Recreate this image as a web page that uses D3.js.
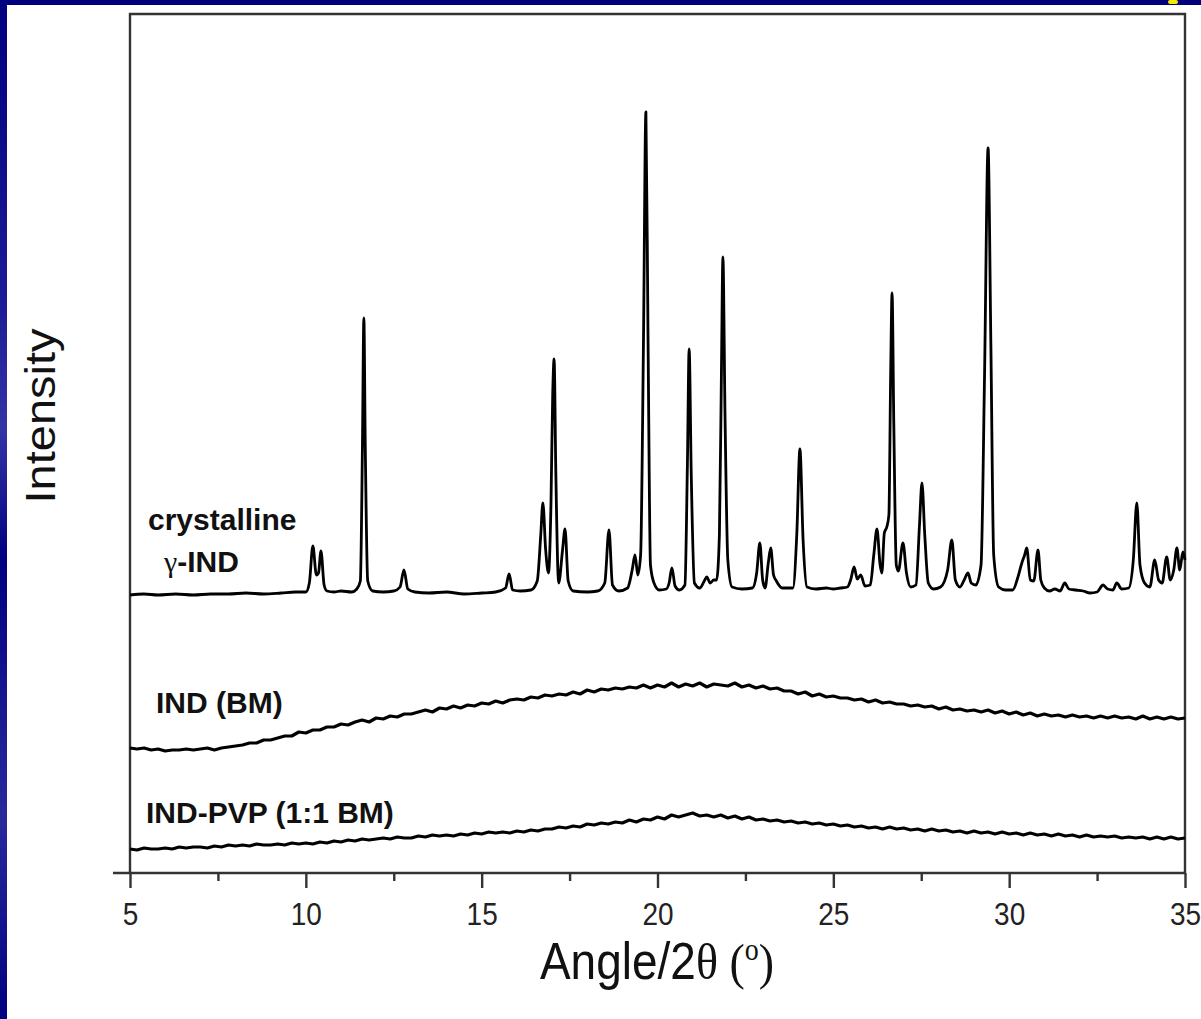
<!DOCTYPE html>
<html>
<head>
<meta charset="utf-8">
<script src="https://cdn.jsdelivr.net/npm/d3@7"></script>
<style>
  html, body { margin: 0; padding: 0; background: #00007d; }
  svg { display: block; }
</style>
</head>
<body>
<div id="chart"></div>
<script>
// x-ray powder patterns (counts above each trace's own zero)
var angleTicks = [5, 10, 15, 20, 25, 30, 35];
var angleMinorTicks = [7.5, 12.5, 17.5, 22.5, 27.5, 32.5];

// crystalline gamma-IND: [2theta, counts]
var crystallinePattern = [
  [5.0,0],[5.4,1],[5.8,0],[6.3,1],[6.8,0],[7.3,1],[7.8,1],[8.3,2],[8.8,1],[9.3,2],[9.7,3],[10.0,3],
  [10.1,12],[10.2,49],[10.3,20],[10.36,22],[10.43,44],[10.52,10],[10.6,4],[10.8,3],[11.0,4],[11.3,3],
  [11.45,6],[11.55,14],[11.61,150],[11.65,277],[11.69,150],[11.76,14],[11.9,4],[12.2,3],[12.5,4],
  [12.68,8],[12.79,25],[12.9,6],[13.1,3],[13.5,2],[14.0,3],[14.5,1],[15.0,2],[15.4,3],[15.68,7],
  [15.78,21],[15.88,5],[16.1,4],[16.4,5],[16.58,14],[16.68,60],[16.74,92],[16.82,45],[16.9,22],
  [16.97,90],[17.02,200],[17.06,236],[17.11,120],[17.19,12],[17.3,45],[17.37,66],[17.46,14],[17.6,4],
  [18.0,3],[18.3,4],[18.5,12],[18.62,65],[18.72,10],[18.9,4],[19.15,7],[19.28,25],[19.36,40],
  [19.44,20],[19.52,40],[19.6,250],[19.67,483],[19.73,260],[19.8,30],[19.9,12],[20.05,5],[20.25,6],
  [20.33,12],[20.41,27],[20.5,9],[20.62,5],[20.78,10],[20.85,130],[20.9,246],[20.96,120],[21.05,12],
  [21.2,7],[21.33,14],[21.4,18],[21.5,12],[21.6,15],[21.68,15],[21.76,60],[21.82,230],[21.86,338],
  [21.92,180],[22.0,35],[22.12,8],[22.4,6],[22.7,7],[22.82,22],[22.91,52],[22.99,15],[23.06,7],
  [23.15,32],[23.22,47],[23.3,20],[23.38,14],[23.55,7],[23.85,7],[23.96,60],[24.05,146],[24.14,55],
  [24.25,8],[24.5,6],[24.8,7],[25.0,6],[25.2,7],[25.4,8],[25.5,16],[25.59,28],[25.68,16],[25.78,20],
  [25.9,9],[26.05,10],[26.15,40],[26.24,66],[26.33,30],[26.38,22],[26.45,62],[26.52,68],[26.58,80],
  [26.63,220],[26.67,302],[26.72,170],[26.79,30],[26.85,24],[26.98,52],[27.08,22],[27.2,8],[27.35,10],
  [27.45,70],[27.52,112],[27.6,60],[27.7,12],[27.85,6],[28.05,8],[28.25,25],[28.37,55],[28.47,15],
  [28.6,8],[28.72,15],[28.83,22],[28.92,12],[29.05,10],[29.2,30],[29.3,220],[29.4,447],[29.48,250],
  [29.56,40],[29.7,8],[29.9,5],[30.1,5],[30.25,18],[30.36,32],[30.44,40],[30.5,47],[30.6,15],[30.7,14],
  [30.82,45],[30.9,15],[31.0,7],[31.15,4],[31.3,6],[31.45,4],[31.58,12],[31.7,6],[31.9,5],[32.1,4],
  [32.3,2],[32.5,3],[32.67,10],[32.8,6],[32.95,5],[33.06,12],[33.2,6],[33.4,7],[33.53,35],[33.63,92],
  [33.72,30],[33.85,12],[34.0,8],[34.14,35],[34.25,15],[34.35,12],[34.48,38],[34.58,15],[34.68,25],
  [34.77,47],[34.85,25],[34.94,43],[35.0,35]
];

// ball-milled samples, sampled every 0.2 deg from 5 deg
var scanStart = 5, scanStep = 0.2;
var indBM = [
  5,4,5,3,4,2,3,3,4,3,
  4,5,3,5,6,7,8,10,10,13,
  13,15,17,17,21,20,23,23,26,26,
  29,28,31,33,31,35,34,37,36,39,
  39,41,43,41,45,44,47,45,48,47,
  50,49,52,50,53,54,53,56,55,58,
  57,59,58,61,59,63,61,64,63,65,
  64,66,65,68,65,68,66,70,66,69,
  67,70,66,69,68,67,70,66,68,65,
  67,64,65,62,62,59,61,57,59,56,
  57,55,55,53,54,51,53,50,51,49,
  49,47,48,46,47,44,46,43,44,42,
  43,41,43,40,42,39,41,38,40,37,
  39,37,38,36,38,36,37,35,37,35,
  37,35,36,34,37,34,36,34,36,34,
  35
];
var indPVP = [
  4,3,5,4,4,5,4,6,5,6,
  6,5,7,6,8,7,8,7,9,8,
  8,9,8,10,9,10,9,11,10,12,
  11,13,12,14,13,14,15,14,16,15,
  15,17,16,18,17,18,17,19,18,20,
  19,21,20,21,20,22,21,23,22,24,
  24,26,25,27,26,29,28,30,29,31,
  30,33,31,34,33,36,34,38,36,38,
  40,37,38,36,38,35,37,34,36,33,
  34,32,33,31,32,30,31,29,30,28,
  29,27,28,26,27,25,26,24,26,24,
  25,23,24,22,24,22,23,21,22,20,
  22,20,21,19,21,19,20,18,20,18,
  19,17,19,17,18,16,18,16,17,16,
  17,15,16,15,16,14,16,14,16,14,
  15
];

var traceLabels = ["crystalline", "IND (BM)", "IND-PVP (1:1 BM)"];

// stacking offsets for the three traces
var offCrys = 278, offBM = 120, offPVP = 20;

var W = 1201, H = 1019;
var plotLeft = 130, plotRight = 1185, plotTop = 14, plotBottom = 873;
var stretch = 1.12; // the source picture is a little taller than wide

var svg = d3.select("#chart").append("svg")
    .attr("width", W)
    .attr("height", H);

// slide background
var defs = svg.append("defs");
var grad = defs.append("linearGradient").attr("id", "edge")
    .attr("x1", 0).attr("y1", 0).attr("x2", 0).attr("y2", 1);
grad.append("stop").attr("offset", "0").attr("stop-color", "#000080");
grad.append("stop").attr("offset", "0.3").attr("stop-color", "#1c1c96");
grad.append("stop").attr("offset", "0.42").attr("stop-color", "#3434a8");
grad.append("stop").attr("offset", "0.55").attr("stop-color", "#000080");
grad.append("stop").attr("offset", "0.8").attr("stop-color", "#2a2a9e");
grad.append("stop").attr("offset", "1").attr("stop-color", "#000080");

svg.append("rect").attr("width", W).attr("height", H).attr("fill", "#00007d");
svg.append("rect").attr("x", 0).attr("y", 0).attr("width", 7).attr("height", H).attr("fill", "url(#edge)");
svg.append("rect").attr("x", 7).attr("y", 5).attr("width", W - 7).attr("height", H - 5).attr("fill", "#fff");
svg.append("rect").attr("x", 1168).attr("y", 0).attr("width", 10).attr("height", 4).attr("rx", 2).attr("fill", "#f5e800");

var x = d3.scaleLinear().domain([5, 35]).range([plotLeft, plotRight]);
var y = d3.scaleLinear().domain([0, plotBottom - plotTop]).range([plotBottom, plotTop]);

// frame
svg.append("path")
    .attr("d", "M" + plotLeft + "," + plotBottom + "V" + plotTop + "H" + plotRight + "V" + plotBottom)
    .attr("fill", "none").attr("stroke", "#333").attr("stroke-width", 2.4);
svg.append("line")
    .attr("x1", 113).attr("x2", plotRight).attr("y1", plotBottom).attr("y2", plotBottom)
    .attr("stroke", "#333").attr("stroke-width", 2.4);

// ticks
var gx = svg.append("g").attr("transform", "translate(0," + plotBottom + ")");
gx.call(d3.axisBottom(x).tickValues(angleTicks).tickSize(15).tickSizeOuter(0));
gx.select(".domain").remove();
gx.selectAll(".tick line").attr("stroke", "#333").attr("stroke-width", 2.4);
gx.selectAll(".tick text")
    .attr("y", 0).attr("dy", 0)
    .attr("transform", "translate(0,52) scale(1," + stretch + ")")
    .attr("font-family", "Liberation Sans, Arial, sans-serif")
    .attr("font-size", 28)
    .attr("fill", "#222");

var gm = svg.append("g").attr("transform", "translate(0," + plotBottom + ")");
gm.call(d3.axisBottom(x).tickValues(angleMinorTicks).tickSize(8).tickFormat(""));
gm.select(".domain").remove();
gm.selectAll(".tick line").attr("stroke", "#333").attr("stroke-width", 2.4);

// traces
var peakLine = d3.line().curve(d3.curveMonotoneX)
    .x(function(d) { return x(d[0]); }).y(function(d) { return y(d[1]); });
var noisyLine = d3.line()
    .x(function(d) { return x(d[0]); }).y(function(d) { return y(d[1]); });

function shift(arr, off) {
  return arr.map(function(d) { return [d[0], d[1] + off]; });
}
function scan(arr, off) {
  return arr.map(function(v, i) { return [scanStart + i * scanStep, v + off]; });
}

var traces = [
  { pts: shift(crystallinePattern, offCrys), gen: peakLine, w: 2.8 },
  { pts: scan(indBM, offBM), gen: noisyLine, w: 3.2 },
  { pts: scan(indPVP, offPVP), gen: noisyLine, w: 3.2 }
];

svg.append("g").selectAll("path")
    .data(traces)
  .enter().append("path")
    .attr("d", function(d) { return d.gen(d.pts); })
    .attr("fill", "none")
    .attr("stroke", "#000")
    .attr("stroke-width", function(d) { return d.w; })
    .attr("stroke-linejoin", "round");

// trace labels
var lab = svg.append("g")
    .attr("font-family", "Liberation Sans, Arial, sans-serif")
    .attr("font-weight", "bold")
    .attr("font-size", 30)
    .attr("fill", "#111");
lab.append("text").attr("x", 148).attr("y", 530).text(traceLabels[0]);
var g2 = lab.append("text").attr("x", 164).attr("y", 572);
g2.append("tspan").attr("font-weight", "normal").attr("font-family", "Liberation Serif, Times New Roman, serif").text("\u03b3");
g2.append("tspan").text("-IND");
lab.append("text").attr("x", 156).attr("y", 713).text(traceLabels[1]);
lab.append("text").attr("x", 146).attr("y", 823).text(traceLabels[2]);

// axis titles
var xt = svg.append("g")
    .attr("transform", "translate(657,979) scale(1," + stretch + ")")
  .append("text")
    .attr("text-anchor", "middle")
    .attr("font-family", "Liberation Sans, Arial, sans-serif")
    .attr("font-size", 46)
    .attr("fill", "#111");
xt.append("tspan").text("Angle/2");
xt.append("tspan").attr("font-family", "Liberation Serif, Times New Roman, serif").text("\u03b8 (");
xt.append("tspan").attr("font-family", "Liberation Serif, Times New Roman, serif")
    .attr("font-size", 28).attr("dy", -17).text("o");
xt.append("tspan").attr("font-family", "Liberation Serif, Times New Roman, serif")
    .attr("dy", 17).text(")");

svg.append("g")
    .attr("transform", "translate(55,416) scale(1," + stretch + ") rotate(-90)")
  .append("text")
    .attr("text-anchor", "middle")
    .attr("font-family", "Liberation Sans, Arial, sans-serif")
    .attr("font-size", 42)
    .attr("fill", "#111")
    .text("Intensity");
</script>
</body>
</html>
